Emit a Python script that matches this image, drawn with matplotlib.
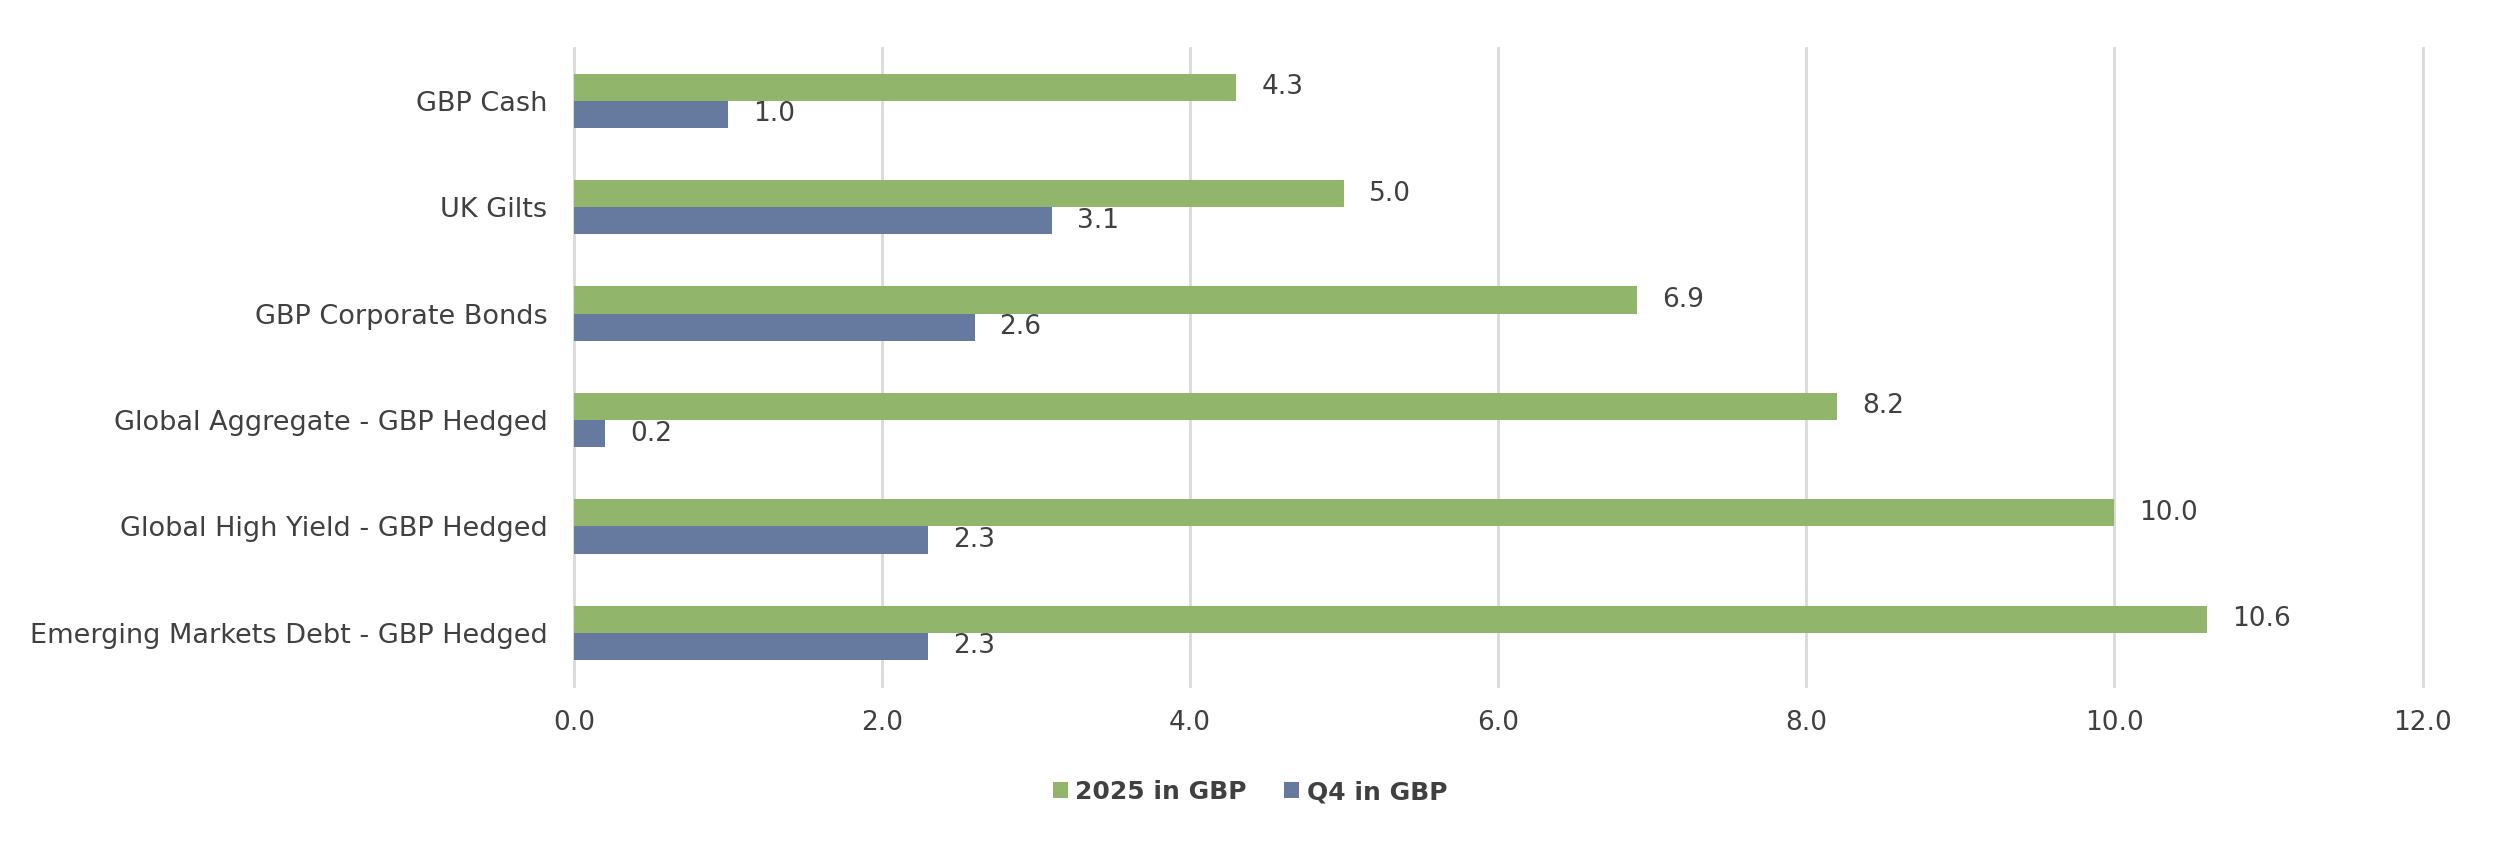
import matplotlib.pyplot as plt
import numpy as np

categories = ["GBP Cash", "UK Gilts", "GBP Corporate Bonds",
              "Global Aggregate - GBP Hedged", "Global High Yield - GBP Hedged",
              "Emerging Markets Debt - GBP Hedged"]
ret_2025 = [4.3, 5.0, 6.9, 8.2, 10.0, 10.6]
ret_q4 = [1.0, 3.1, 2.6, 0.2, 2.3, 2.3]
xticks = [0, 2, 4, 6, 8, 10, 12]

green = "#92B56C"
blue = "#667A9F"
txt = "#404040"

plt.rcParams['font.family'] = ['DejaVu Sans']

fig = plt.figure(figsize=(25, 8.49), dpi=100)
ax = fig.add_axes([0.2296, 0.192, 0.969 - 0.2296, 0.752])

y = np.arange(len(categories))
h = 0.255
ax.barh(y - h / 2, ret_2025, height=h, color=green, label="2025 in GBP", zorder=3)
ax.barh(y + h / 2, ret_q4, height=h, color=blue, label="Q4 in GBP", zorder=3)

for yi, v in zip(y, ret_2025):
    ax.annotate(f"{v:.1f}", (v, yi - h / 2), xytext=(25, 0), textcoords="offset pixels",
                va="center", ha="left", fontsize=19, color=txt)
for yi, v in zip(y, ret_q4):
    ax.annotate(f"{v:.1f}", (v, yi + h / 2), xytext=(25, 0), textcoords="offset pixels",
                va="center", ha="left", fontsize=19, color=txt)

ax.set_ylim(len(categories) - 0.5, -0.5)
ax.set_xlim(0, 12)
ax.set_yticks(y)
ax.set_yticklabels(categories, fontsize=19.5, color=txt)
ax.set_xticks(xticks)
ax.set_xticklabels([f"{t:.1f}" for t in xticks], fontsize=19, color=txt)
ax.tick_params(axis='both', length=0)
ax.tick_params(axis='x', pad=17)
ax.tick_params(axis='y', pad=19)
ax.xaxis.grid(True, color="#D9D9D9", linewidth=2, zorder=0)
for gl in ax.get_xgridlines():
    gl.set_clip_on(False)
for s in ax.spines.values():
    s.set_visible(False)

leg = fig.legend(loc="center", bbox_to_anchor=(0.5, 0.067), ncol=2, frameon=False,
                 prop={'size': 18, 'weight': 'bold'}, handlelength=0.6, handleheight=0.6,
                 handletextpad=0.3, columnspacing=1.5)
for t in leg.get_texts():
    t.set_color(txt)

fig.savefig("out.png", dpi=100)
